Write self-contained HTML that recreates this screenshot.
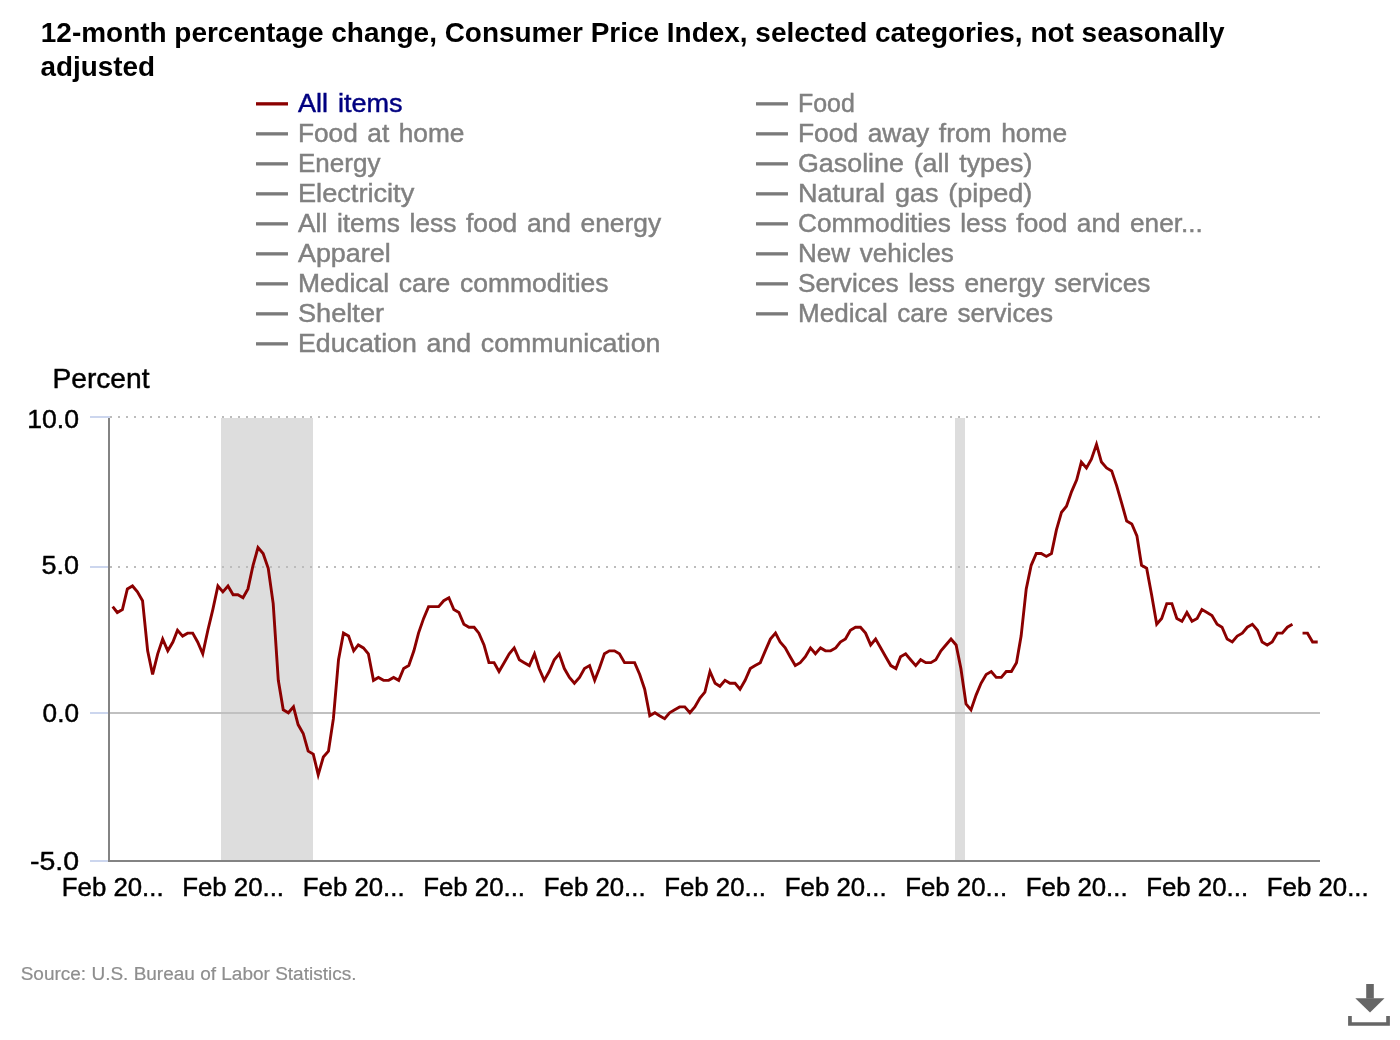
<!DOCTYPE html>
<html><head><meta charset="utf-8"><style>
html,body{margin:0;padding:0;background:#fff;width:1400px;height:1040px;overflow:hidden}
svg{display:block;font-family:"Liberation Sans",sans-serif;-webkit-font-smoothing:antialiased}
.t{will-change:transform}
</style></head><body>
<svg width="1400" height="1040" viewBox="0 0 1400 1040">
<rect x="0" y="0" width="1400" height="1040" fill="#fff"/>
<rect x="221" y="418" width="92" height="442" fill="#dddddd"/>
<rect x="955" y="418" width="10" height="442" fill="#dddddd"/>
<line x1="110" y1="417" x2="1320" y2="417" stroke="#bcbcbc" stroke-width="2" stroke-dasharray="2 6"/><line x1="110" y1="567" x2="1320" y2="567" stroke="#bcbcbc" stroke-width="2" stroke-dasharray="2 6"/>
<rect x="110" y="712" width="1210" height="2" fill="#c0c0c0"/>
<rect x="90" y="416" width="20" height="2" fill="#ccd6ee"/><rect x="90" y="566" width="20" height="2" fill="#ccd6ee"/><rect x="90" y="712" width="20" height="2" fill="#ccd6ee"/><rect x="90" y="860" width="20" height="2" fill="#ccd6ee"/>
<rect x="108" y="418" width="2" height="442" fill="#838383"/>
<rect x="108" y="860" width="1212" height="2" fill="#838383"/>
<path d="M112.68 606.60 L117.30 612.50 L122.41 609.55 L127.36 588.90 L132.48 585.95 L137.42 591.85 L142.54 600.70 L147.65 650.85 L152.60 674.45 L157.71 653.80 L162.66 639.05 L167.78 650.85 L172.89 642.00 L177.51 630.20 L182.62 636.10 L187.57 633.15 L192.69 633.15 L197.63 642.00 L202.75 653.80 L207.86 630.20 L212.81 609.55 L217.92 585.95 L222.87 591.85 L227.99 585.95 L233.10 594.80 L237.88 594.80 L243.00 597.75 L247.95 588.90 L253.06 565.30 L258.01 547.60 L263.12 553.50 L268.24 568.25 L273.19 603.65 L278.30 680.35 L283.25 709.85 L288.36 712.80 L293.48 706.90 L298.10 724.60 L303.21 733.45 L308.16 751.15 L313.27 754.10 L318.22 774.75 L323.33 757.05 L328.45 751.15 L333.40 718.70 L338.51 659.70 L343.46 633.15 L348.57 636.10 L353.69 650.85 L358.31 644.95 L363.42 647.90 L368.37 653.80 L373.48 680.35 L378.43 677.40 L383.54 680.35 L388.66 680.35 L393.61 677.40 L398.72 680.35 L403.67 668.55 L408.78 665.60 L413.90 650.85 L418.52 633.15 L423.63 618.40 L428.58 606.60 L433.69 606.60 L438.64 606.60 L443.75 600.70 L448.87 597.75 L453.82 609.55 L458.93 612.50 L463.88 624.30 L468.99 627.25 L474.11 627.25 L478.89 633.15 L484.00 644.95 L488.95 662.65 L494.07 662.65 L499.02 671.50 L504.13 662.65 L509.24 653.80 L514.19 647.90 L519.31 659.70 L524.26 662.65 L529.37 665.60 L534.48 653.80 L539.10 668.55 L544.22 680.35 L549.16 671.50 L554.28 659.70 L559.23 653.80 L564.34 668.55 L569.45 677.40 L574.40 683.30 L579.52 677.40 L584.47 668.55 L589.58 665.60 L594.69 680.35 L599.31 668.55 L604.43 653.80 L609.37 650.85 L614.49 650.85 L619.44 653.80 L624.55 662.65 L629.66 662.65 L634.61 662.65 L639.73 674.45 L644.68 689.20 L649.79 715.75 L654.90 712.80 L659.52 715.75 L664.64 718.70 L669.58 712.80 L674.70 709.85 L679.65 706.90 L684.76 706.90 L689.88 712.80 L694.82 706.90 L699.94 698.05 L704.89 692.15 L710.00 671.50 L715.11 683.30 L719.90 686.25 L725.01 680.35 L729.96 683.30 L735.07 683.30 L740.02 689.20 L745.14 680.35 L750.25 668.55 L755.20 665.60 L760.31 662.65 L765.26 650.85 L770.38 639.05 L775.49 633.15 L780.11 642.00 L785.22 647.90 L790.17 656.75 L795.28 665.60 L800.23 662.65 L805.35 656.75 L810.46 647.90 L815.41 653.80 L820.52 647.90 L825.47 650.85 L830.59 650.85 L835.70 647.90 L840.32 642.00 L845.43 639.05 L850.38 630.20 L855.49 627.25 L860.44 627.25 L865.56 633.15 L870.67 644.95 L875.62 639.05 L880.73 647.90 L885.68 656.75 L890.80 665.60 L895.91 668.55 L900.53 656.75 L905.64 653.80 L910.59 659.70 L915.71 665.60 L920.65 659.70 L925.77 662.65 L930.88 662.65 L935.83 659.70 L940.94 650.85 L945.89 644.95 L951.01 639.05 L956.12 644.95 L960.90 668.55 L966.02 703.95 L970.97 709.85 L976.08 695.10 L981.03 683.30 L986.14 674.45 L991.26 671.50 L996.21 677.40 L1001.32 677.40 L1006.27 671.50 L1011.38 671.50 L1016.50 662.65 L1021.11 636.10 L1026.23 588.90 L1031.18 565.30 L1036.29 553.50 L1041.24 553.50 L1046.35 556.45 L1051.47 553.50 L1056.42 529.90 L1061.53 512.20 L1066.48 506.30 L1071.59 491.55 L1076.71 479.75 L1081.33 462.05 L1086.44 467.95 L1091.39 459.10 L1096.50 444.35 L1101.45 462.05 L1106.56 467.95 L1111.68 470.90 L1116.63 485.65 L1121.74 503.35 L1126.69 521.05 L1131.80 524.00 L1136.92 535.80 L1141.54 565.30 L1146.65 568.25 L1151.60 594.80 L1156.71 624.30 L1161.66 618.40 L1166.77 603.65 L1171.89 603.65 L1176.84 618.40 L1181.95 621.35 L1186.90 612.50 L1192.01 621.35 L1197.13 618.40 L1201.91 609.55 L1207.02 612.50 L1211.97 615.45 L1217.09 624.30 L1222.04 627.25 L1227.15 639.05 L1232.26 642.00 L1237.21 636.10 L1242.33 633.15 L1247.27 627.25 L1252.39 624.30 L1257.50 630.20 L1262.12 642.00 L1267.24 644.95 L1272.18 642.00 L1277.30 633.15 L1282.25 633.15 L1287.36 627.25 L1292.47 624.30" fill="none" stroke="#8b0000" stroke-width="2.9" stroke-linejoin="miter" stroke-miterlimit="4" stroke-linecap="butt"/><path d="M1302.54 633.15 L1307.49 633.15 L1312.60 642.00 L1317.71 642.00" fill="none" stroke="#8b0000" stroke-width="2.9" stroke-linejoin="miter" stroke-miterlimit="4" stroke-linecap="butt"/>
<rect x="256" y="102.2" width="32" height="3.3" fill="#8b0000"/><rect x="256" y="132.2" width="32" height="3.3" fill="#7a7a7a"/><rect x="256" y="162.2" width="32" height="3.3" fill="#7a7a7a"/><rect x="256" y="192.2" width="32" height="3.3" fill="#7a7a7a"/><rect x="256" y="222.2" width="32" height="3.3" fill="#7a7a7a"/><rect x="256" y="252.2" width="32" height="3.3" fill="#7a7a7a"/><rect x="256" y="282.2" width="32" height="3.3" fill="#7a7a7a"/><rect x="256" y="312.2" width="32" height="3.3" fill="#7a7a7a"/><rect x="256" y="342.2" width="32" height="3.3" fill="#7a7a7a"/><rect x="756" y="102.2" width="32" height="3.3" fill="#7a7a7a"/><rect x="756" y="132.2" width="32" height="3.3" fill="#7a7a7a"/><rect x="756" y="162.2" width="32" height="3.3" fill="#7a7a7a"/><rect x="756" y="192.2" width="32" height="3.3" fill="#7a7a7a"/><rect x="756" y="222.2" width="32" height="3.3" fill="#7a7a7a"/><rect x="756" y="252.2" width="32" height="3.3" fill="#7a7a7a"/><rect x="756" y="282.2" width="32" height="3.3" fill="#7a7a7a"/><rect x="756" y="312.2" width="32" height="3.3" fill="#7a7a7a"/>
<g class="t"><text x="298.00" y="112" font-size="25.4" word-spacing="2.2" fill="#000080" stroke="#000080" stroke-width="0.45" textLength="104.44" lengthAdjust="spacingAndGlyphs">All items</text>
<text x="298.00" y="142" font-size="25.4" word-spacing="2.2" fill="#808080" stroke="#808080" stroke-width="0.45" textLength="166.36" lengthAdjust="spacingAndGlyphs">Food at home</text>
<text x="298.00" y="172" font-size="25.4" word-spacing="2.2" fill="#808080" stroke="#808080" stroke-width="0.45" textLength="82.39" lengthAdjust="spacingAndGlyphs">Energy</text>
<text x="298.00" y="202" font-size="25.4" word-spacing="2.2" fill="#808080" stroke="#808080" stroke-width="0.45" textLength="116.27" lengthAdjust="spacingAndGlyphs">Electricity</text>
<text x="298.00" y="232" font-size="25.4" word-spacing="2.2" fill="#808080" stroke="#808080" stroke-width="0.45" textLength="363.08" lengthAdjust="spacingAndGlyphs">All items less food and energy</text>
<text x="298.00" y="262" font-size="25.4" word-spacing="2.2" fill="#808080" stroke="#808080" stroke-width="0.45" textLength="92.64" lengthAdjust="spacingAndGlyphs">Apparel</text>
<text x="298.00" y="292" font-size="25.4" word-spacing="2.2" fill="#808080" stroke="#808080" stroke-width="0.45" textLength="310.52" lengthAdjust="spacingAndGlyphs">Medical care commodities</text>
<text x="298.00" y="322" font-size="25.4" word-spacing="2.2" fill="#808080" stroke="#808080" stroke-width="0.45" textLength="86.02" lengthAdjust="spacingAndGlyphs">Shelter</text>
<text x="298.00" y="352" font-size="25.4" word-spacing="2.2" fill="#808080" stroke="#808080" stroke-width="0.45" textLength="362.48" lengthAdjust="spacingAndGlyphs">Education and communication</text>
<text x="798.00" y="112" font-size="25.4" word-spacing="2.2" fill="#808080" stroke="#808080" stroke-width="0.45" textLength="56.80" lengthAdjust="spacingAndGlyphs">Food</text>
<text x="798.00" y="142" font-size="25.4" word-spacing="2.2" fill="#808080" stroke="#808080" stroke-width="0.45" textLength="269.16" lengthAdjust="spacingAndGlyphs">Food away from home</text>
<text x="798.00" y="172" font-size="25.4" word-spacing="2.2" fill="#808080" stroke="#808080" stroke-width="0.45" textLength="234.34" lengthAdjust="spacingAndGlyphs">Gasoline (all types)</text>
<text x="798.00" y="202" font-size="25.4" word-spacing="2.2" fill="#808080" stroke="#808080" stroke-width="0.45" textLength="234.35" lengthAdjust="spacingAndGlyphs">Natural gas (piped)</text>
<text x="798.00" y="232" font-size="25.4" word-spacing="2.2" fill="#808080" stroke="#808080" stroke-width="0.45" textLength="404.82" lengthAdjust="spacingAndGlyphs">Commodities less food and ener...</text>
<text x="798.00" y="262" font-size="25.4" word-spacing="2.2" fill="#808080" stroke="#808080" stroke-width="0.45" textLength="155.81" lengthAdjust="spacingAndGlyphs">New vehicles</text>
<text x="798.00" y="292" font-size="25.4" word-spacing="2.2" fill="#808080" stroke="#808080" stroke-width="0.45" textLength="352.42" lengthAdjust="spacingAndGlyphs">Services less energy services</text>
<text x="798.00" y="322" font-size="25.4" word-spacing="2.2" fill="#808080" stroke="#808080" stroke-width="0.45" textLength="254.91" lengthAdjust="spacingAndGlyphs">Medical care services</text>
<text x="40.80" y="42" font-size="28" font-weight="bold" fill="#000" textLength="1183.77" lengthAdjust="spacingAndGlyphs">12-month percentage change, Consumer Price Index, selected categories, not seasonally</text>
<text x="40.60" y="76" font-size="28" font-weight="bold" fill="#000" textLength="114.50" lengthAdjust="spacingAndGlyphs">adjusted</text>
<text x="52.43" y="388" font-size="27.2" fill="#000" stroke="#000" stroke-width="0.45" textLength="97.11" lengthAdjust="spacingAndGlyphs">Percent</text>
<text x="27.25" y="428" font-size="25.4" fill="#000" stroke="#000" stroke-width="0.45" textLength="51.77" lengthAdjust="spacingAndGlyphs">10.0</text>
<text x="41.54" y="574" font-size="25.4" fill="#000" stroke="#000" stroke-width="0.45" textLength="37.49" lengthAdjust="spacingAndGlyphs">5.0</text>
<text x="42.60" y="722" font-size="25.4" fill="#000" stroke="#000" stroke-width="0.45" textLength="36.42" lengthAdjust="spacingAndGlyphs">0.0</text>
<text x="29.98" y="870" font-size="25.4" fill="#000" stroke="#000" stroke-width="0.45" textLength="49.06" lengthAdjust="spacingAndGlyphs">-5.0</text>
<text x="61.80" y="896" font-size="25.4" fill="#000" stroke="#000" stroke-width="0.45" textLength="101.82" lengthAdjust="spacingAndGlyphs">Feb 20...</text>
<text x="182.22" y="896" font-size="25.4" fill="#000" stroke="#000" stroke-width="0.45" textLength="101.82" lengthAdjust="spacingAndGlyphs">Feb 20...</text>
<text x="302.80" y="896" font-size="25.4" fill="#000" stroke="#000" stroke-width="0.45" textLength="101.82" lengthAdjust="spacingAndGlyphs">Feb 20...</text>
<text x="423.23" y="896" font-size="25.4" fill="#000" stroke="#000" stroke-width="0.45" textLength="101.82" lengthAdjust="spacingAndGlyphs">Feb 20...</text>
<text x="543.81" y="896" font-size="25.4" fill="#000" stroke="#000" stroke-width="0.45" textLength="101.82" lengthAdjust="spacingAndGlyphs">Feb 20...</text>
<text x="664.23" y="896" font-size="25.4" fill="#000" stroke="#000" stroke-width="0.45" textLength="101.82" lengthAdjust="spacingAndGlyphs">Feb 20...</text>
<text x="784.82" y="896" font-size="25.4" fill="#000" stroke="#000" stroke-width="0.45" textLength="101.82" lengthAdjust="spacingAndGlyphs">Feb 20...</text>
<text x="905.24" y="896" font-size="25.4" fill="#000" stroke="#000" stroke-width="0.45" textLength="101.82" lengthAdjust="spacingAndGlyphs">Feb 20...</text>
<text x="1025.82" y="896" font-size="25.4" fill="#000" stroke="#000" stroke-width="0.45" textLength="101.82" lengthAdjust="spacingAndGlyphs">Feb 20...</text>
<text x="1146.24" y="896" font-size="25.4" fill="#000" stroke="#000" stroke-width="0.45" textLength="101.82" lengthAdjust="spacingAndGlyphs">Feb 20...</text>
<text x="1266.83" y="896" font-size="25.4" fill="#000" stroke="#000" stroke-width="0.45" textLength="101.82" lengthAdjust="spacingAndGlyphs">Feb 20...</text>
<text x="20.70" y="980" font-size="18.8" fill="#8e8e8e" stroke="#8e8e8e" stroke-width="0.2" textLength="335.73" lengthAdjust="spacingAndGlyphs">Source: U.S. Bureau of Labor Statistics.</text></g>
<g fill="#666666">
<rect x="1366.2" y="984" width="7.6" height="14.5"/>
<polygon points="1355.3,998.2 1384.5,998.2 1370,1012.4"/>
<path d="M1348.1 1016 H1351.8 V1022.2 H1386.2 V1016 H1389.9 V1025.8 H1348.1 Z"/>
</g>
</svg>
</body></html>
